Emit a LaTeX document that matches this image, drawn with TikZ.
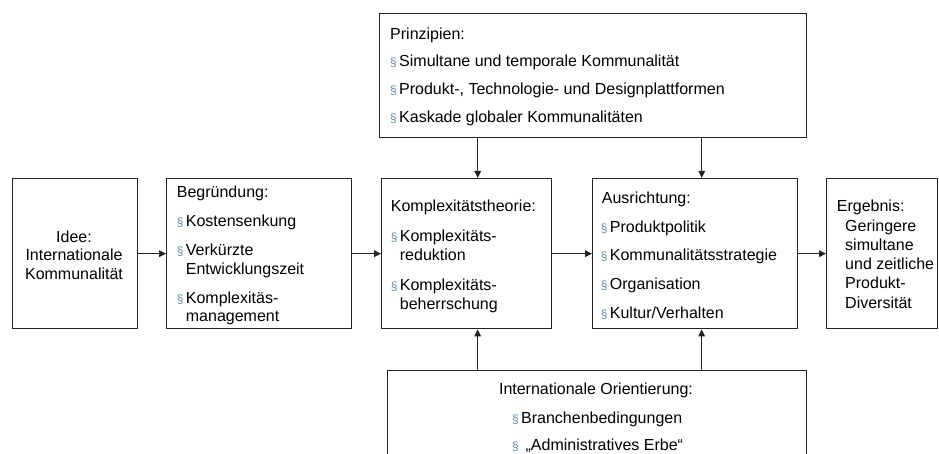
\documentclass[tikz,border=0pt]{standalone}
\usepackage{fontspec}
\setmainfont{Liberation Sans}
\usetikzlibrary{arrows.meta}
\definecolor{markblue}{RGB}{95,135,195}
\definecolor{frame}{RGB}{35,35,35}
% paragraph mark used as bullet, followed by the item text
\newcommand{\secmark}{\makebox[9pt][l]{\color{markblue}\fontsize{12}{12}\selectfont\S}}
\begin{document}
\begin{tikzpicture}[x=1pt,y=-1pt,
  box/.style={draw=frame, line width=1.4pt, anchor=north west, inner sep=0pt},
  txt/.style={anchor=base west, inner sep=0pt, font=\fontsize{16}{18.5}\selectfont},
  ctr/.style={anchor=base, inner sep=0pt, font=\fontsize{16}{18.5}\selectfont},
  arr/.style={line width=1.4pt, draw=frame, -{Triangle[length=7pt,width=6.5pt]}}]
\useasboundingbox (0,0) rectangle (939,454);
\clip (0,0) rectangle (939,454);

% boxes
\node[box, minimum width=124.5pt, minimum height=150pt] (idee) at (12,178) {};
\node[box, minimum width=185pt, minimum height=150pt] (begr) at (166,178) {};
\node[box, minimum width=170pt, minimum height=150pt] (komp) at (381,178) {};
\node[box, minimum width=205pt, minimum height=150pt] (ausr) at (592,178) {};
\node[box, minimum width=111pt, minimum height=150pt] (erg) at (826,178) {};
\node[box, minimum width=427pt, minimum height=124pt] (prin) at (379,13) {};
\node[box, minimum width=419pt, minimum height=120pt] (intl) at (387,370) {};

% Idee
\node[ctr] (i1) at (74,242.5) {Idee:};
\node[ctr] (i2) at (74,261) {Internationale};
\node[ctr] (i3) at (74,279.5) {Kommunalität};

% Begründung
\node[txt] (b0) at (176.7,198) {Begründung:};
\node[txt] (b1) at (176.7,227) {\secmark Kostensenkung};
\node[txt] (b2) at (176.7,256) {\secmark Verkürzte};
\node[txt] (b3) at (185.7,274.5) {Entwicklungszeit};
\node[txt] (b4) at (176.7,303) {\secmark Komplexitäs-};
\node[txt] (b5) at (185.7,321.5) {management};

% Komplexitätstheorie
\node[txt] (k0) at (390.7,211.5) {Komplexitätstheorie:};
\node[txt] (k1) at (390.7,242) {\secmark Komplexitäts-};
\node[txt] (k2) at (399.7,260.5) {reduktion};
\node[txt] (k3) at (390.7,290.5) {\secmark Komplexitäts-};
\node[txt] (k4) at (399.7,309) {beherrschung};

% Ausrichtung
\node[txt] (a0) at (601.7,204) {Ausrichtung:};
\node[txt] (a1) at (600.7,232.5) {\secmark Produktpolitik};
\node[txt] (a2) at (600.7,261) {\secmark Kommunalitätsstrategie};
\node[txt] (a3) at (600.7,289.5) {\secmark Organisation};
\node[txt] (a4) at (600.7,318) {\secmark Kultur/Verhalten};

% Ergebnis
\node[txt] (e0) at (836.7,212) {Ergebnis:};
\node[txt] (e1) at (845,231.2) {Geringere};
\node[txt] (e2) at (845,250.4) {simultane};
\node[txt] (e3) at (845,269.6) {und zeitliche};
\node[txt] (e4) at (845,288.8) {Produkt-};
\node[txt] (e5) at (845,308) {Diversität};

% Prinzipien
\node[txt] (p0) at (390,39.5) {Prinzipien:};
\node[txt] (p1) at (390,67) {\secmark Simultane und temporale Kommunalität};
\node[txt] (p2) at (390,95) {\secmark Produkt-, Technologie- und Designplattformen};
\node[txt] (p3) at (390,122.5) {\secmark Kaskade globaler Kommunalitäten};

% Internationale Orientierung
\node[ctr] (o0) at (596,394.5) {Internationale Orientierung:};
\node[txt] (o1) at (512,423) {\secmark Branchenbedingungen};
\node[txt] (o2) at (512,450.5) {\secmark\ „Administratives Erbe“};

% connectors
\draw[arr] (idee.east) -- (begr.west);
\draw[arr] (begr.east) -- (komp.west);
\draw[arr] (komp.east) -- (ausr.west);
\draw[arr] (ausr.east) -- (erg.west);
\draw[arr] ([xshift=11pt]komp.north |- prin.south) -- ([xshift=11pt]komp.north);
\draw[arr] ([xshift=6.5pt]ausr.north |- prin.south) -- ([xshift=6.5pt]ausr.north);
\draw[arr] ([xshift=11pt]komp.south |- intl.north) -- ([xshift=11pt]komp.south);
\draw[arr] ([xshift=6.5pt]ausr.south |- intl.north) -- ([xshift=6.5pt]ausr.south);
\end{tikzpicture}
\end{document}
